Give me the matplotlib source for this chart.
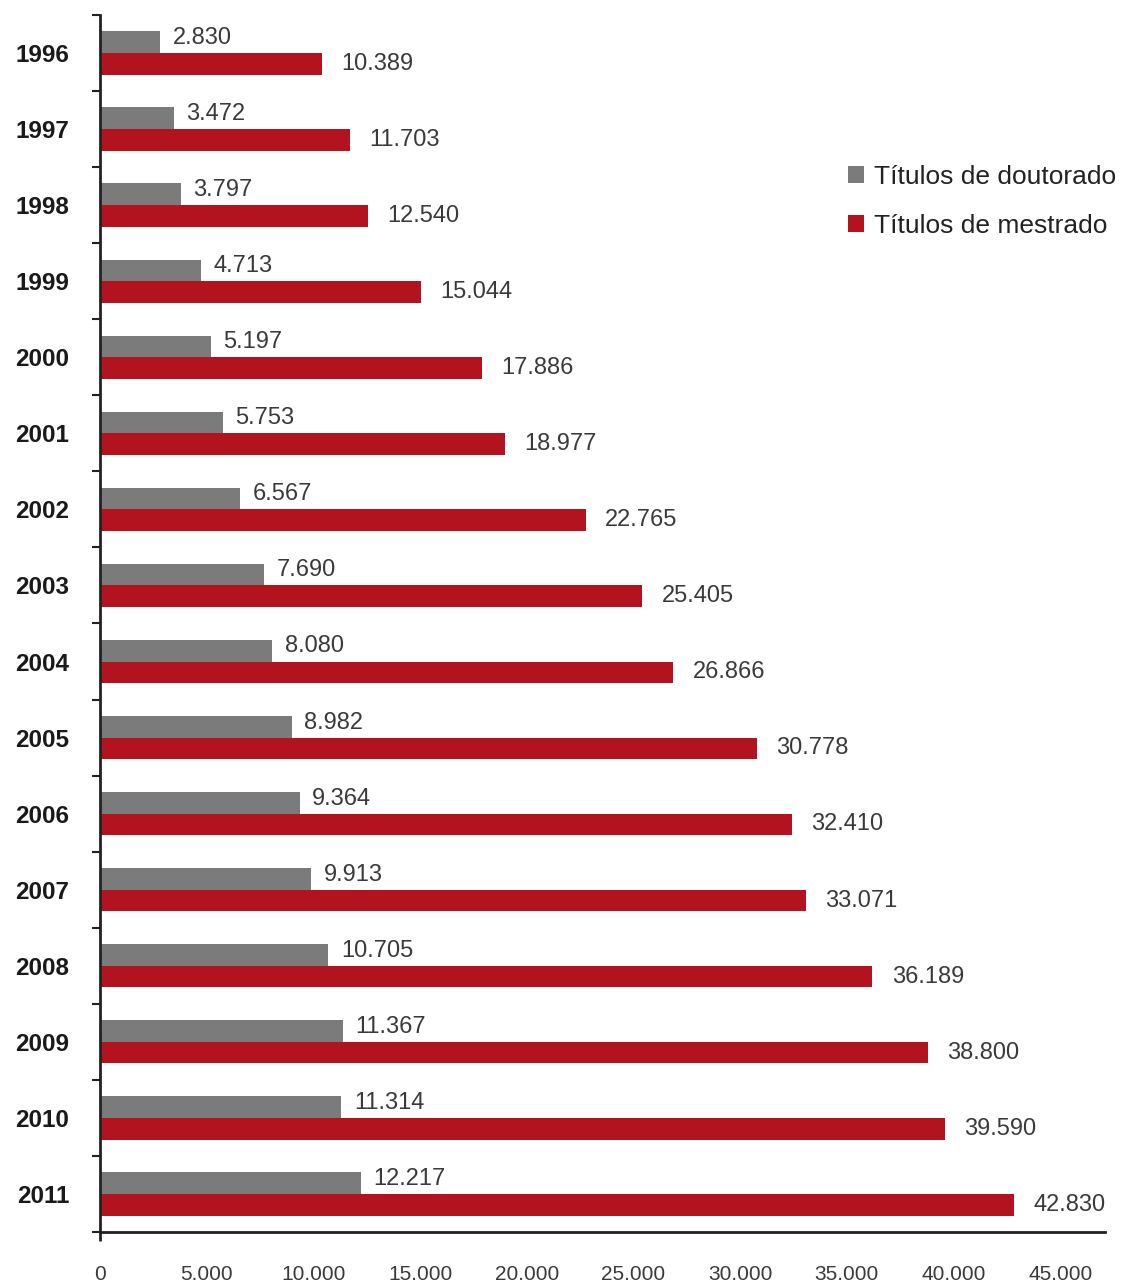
import numpy as np
import matplotlib.pyplot as plt
from matplotlib import font_manager

# fonte estreita se existir, senão cai para Liberation Sans
names = {f.name for f in font_manager.fontManager.ttflist}
base_font = "Liberation Sans Narrow" if "Liberation Sans Narrow" in names else "Liberation Sans"
plt.rcParams["font.family"] = [base_font, "DejaVu Sans"]

# ================================
# dados
# ================================
anos = ["1996", "1997", "1998", "1999", "2000", "2001", "2002", "2003",
        "2004", "2005", "2006", "2007", "2008", "2009", "2010", "2011"]
doutorado = [2830, 3472, 3797, 4713, 5197, 5753, 6567, 7690,
             8080, 8982, 9364, 9913, 10705, 11367, 11314, 12217]
mestrado = [10389, 11703, 12540, 15044, 17886, 18977, 22765, 25405,
            26866, 30778, 32410, 33071, 36189, 38800, 39590, 42830]
xticks = [0, 5000, 10000, 15000, 20000, 25000, 30000, 35000, 40000, 45000]

cor_dout = "#7b7b7b"
cor_mest = "#b3131e"
cor_texto = "#3a3a3a"


def fmt(v):
    # separador de milhar com ponto
    return f"{v:,}".replace(",", ".")


fig = plt.figure(figsize=(11.27, 12.83), dpi=100)
ax = fig.add_axes([0.0887, 0.0398, 0.8918, 0.9485])

y = np.arange(len(anos))
h = 0.285

ax.barh(y - h / 2, doutorado, height=h, color=cor_dout, label="Títulos de doutorado")
ax.barh(y + h / 2, mestrado, height=h, color=cor_mest, label="Títulos de mestrado")

for i in range(len(anos)):
    ax.annotate(fmt(doutorado[i]), (doutorado[i], y[i] - h / 2), xytext=(9, 3),
                textcoords="offset points", ha="left", va="center",
                fontsize=17, color=cor_texto)
    ax.annotate(fmt(mestrado[i]), (mestrado[i], y[i] + h / 2), xytext=(14, 0),
                textcoords="offset points", ha="left", va="center",
                fontsize=17, color=cor_texto)

ax.set_xlim(0, 47100)
ax.set_ylim(len(anos) - 0.5, -0.5)

ax.set_yticks(y)
ax.set_yticklabels(anos, fontsize=17.5, fontweight="bold", color="#1a1a1a")
ax.tick_params(axis="y", which="major", length=0, pad=22)
ax.set_yticks(np.arange(len(anos) + 1) - 0.5, minor=True)
ax.tick_params(axis="y", which="minor", length=6, width=1.5, color="#222222")

ax.set_xticks(xticks)
ax.set_xticklabels([fmt(v) for v in xticks], fontsize=15, color=cor_texto)
ax.tick_params(axis="x", length=0, pad=24)

for s in ["top", "right"]:
    ax.spines[s].set_visible(False)
for s in ["left", "bottom"]:
    ax.spines[s].set_linewidth(2)
    ax.spines[s].set_color("#222222")

# eixo vertical passa um pouco abaixo do eixo horizontal
ax.plot([0, 0], [len(anos) - 0.5, len(anos) - 0.38], color="#222222",
        lw=2, clip_on=False, solid_capstyle="butt")

ax.legend(loc="upper left", bbox_to_anchor=(0.743, 0.880), bbox_transform=fig.transFigure,
          frameon=False, prop={"size": 19, "weight": "medium"},
          handlelength=0.6, handleheight=0.6,
          handletextpad=0.4, labelspacing=0.95, borderaxespad=0, labelcolor="#222222")

fig.savefig("out.png", dpi=100)
plt.close(fig)
